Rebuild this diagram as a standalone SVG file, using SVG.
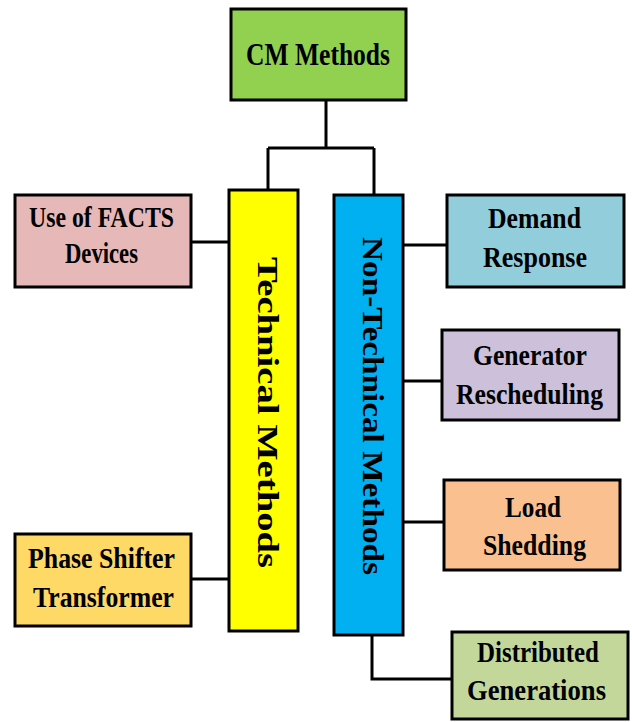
<svg xmlns="http://www.w3.org/2000/svg" width="632" height="722" viewBox="0 0 632 722">
  <style>
    .box { stroke: #000; stroke-width: 3; }
    .lbl { font-family: "Liberation Serif", "Times New Roman", serif; font-weight: bold; font-size: 29px; fill: #000; text-anchor: middle; }
    .title { font-size: 32px; }
    .wire { fill: none; stroke: #000; stroke-width: 3; }
  </style>
  <rect width="632" height="722" fill="#fff"/>

  <!-- connectors -->
  <g id="connectors">
    <path class="wire" d="M326,100 V148 M268,148 H374 M268,148 V190 M374,148 V195"/>
    <path class="wire" d="M191,242 H229"/>
    <path class="wire" d="M191,579 H229"/>
    <path class="wire" d="M403,245 H447"/>
    <path class="wire" d="M403,381 H442"/>
    <path class="wire" d="M403,522 H444"/>
    <path class="wire" d="M372,635 V679 H452"/>
  </g>

  <g id="cm-methods">
    <rect class="box" x="231" y="9" width="175" height="91" fill="#92D050"/>
    <text class="lbl title" x="318" y="65" textLength="144" lengthAdjust="spacingAndGlyphs">CM Methods</text>
  </g>

  <g id="technical">
    <rect class="box" x="229" y="190" width="69" height="441" fill="#FFFF00"/>
    <text class="lbl" transform="translate(258,412.5) rotate(90)" textLength="311" lengthAdjust="spacingAndGlyphs">Technical Methods</text>
  </g>

  <g id="non-technical">
    <rect class="box" x="334" y="195" width="69" height="440" fill="#00B0F0"/>
    <text class="lbl" transform="translate(363,406) rotate(90)" textLength="338" lengthAdjust="spacingAndGlyphs">Non-Technical Methods</text>
  </g>

  <g id="facts">
    <rect class="box" x="15" y="195" width="176" height="92" fill="#E6B8B7"/>
    <text class="lbl" x="101.5" y="227" textLength="145" lengthAdjust="spacingAndGlyphs">Use of FACTS</text>
    <text class="lbl" x="101.5" y="263" textLength="73" lengthAdjust="spacingAndGlyphs">Devices</text>
  </g>

  <g id="phase-shifter">
    <rect class="box" x="15" y="534" width="176" height="92" fill="#FFD966"/>
    <text class="lbl" x="101.5" y="568" textLength="147" lengthAdjust="spacingAndGlyphs">Phase Shifter</text>
    <text class="lbl" x="103.5" y="607" textLength="141" lengthAdjust="spacingAndGlyphs">Transformer</text>
  </g>

  <g id="demand-response">
    <rect class="box" x="447" y="195" width="177" height="92" fill="#92CDDC"/>
    <text class="lbl" x="534.5" y="228" textLength="93" lengthAdjust="spacingAndGlyphs">Demand</text>
    <text class="lbl" x="535" y="267" textLength="104" lengthAdjust="spacingAndGlyphs">Response</text>
  </g>

  <g id="generator-rescheduling">
    <rect class="box" x="442" y="330" width="177" height="90" fill="#CCC0DA"/>
    <text class="lbl" x="530" y="365" textLength="114" lengthAdjust="spacingAndGlyphs">Generator</text>
    <text class="lbl" x="529.5" y="404" textLength="147" lengthAdjust="spacingAndGlyphs">Rescheduling</text>
  </g>

  <g id="load-shedding">
    <rect class="box" x="444" y="480" width="176" height="90" fill="#FAC090"/>
    <text class="lbl" x="533" y="517" textLength="56" lengthAdjust="spacingAndGlyphs">Load</text>
    <text class="lbl" x="534.5" y="555" textLength="103" lengthAdjust="spacingAndGlyphs">Shedding</text>
  </g>

  <g id="distributed-generations">
    <rect class="box" x="452" y="632" width="176" height="87" fill="#C4D79B"/>
    <text class="lbl" x="538" y="662" textLength="122" lengthAdjust="spacingAndGlyphs">Distributed</text>
    <text class="lbl" x="536.5" y="700" textLength="139" lengthAdjust="spacingAndGlyphs">Generations</text>
  </g>
</svg>
